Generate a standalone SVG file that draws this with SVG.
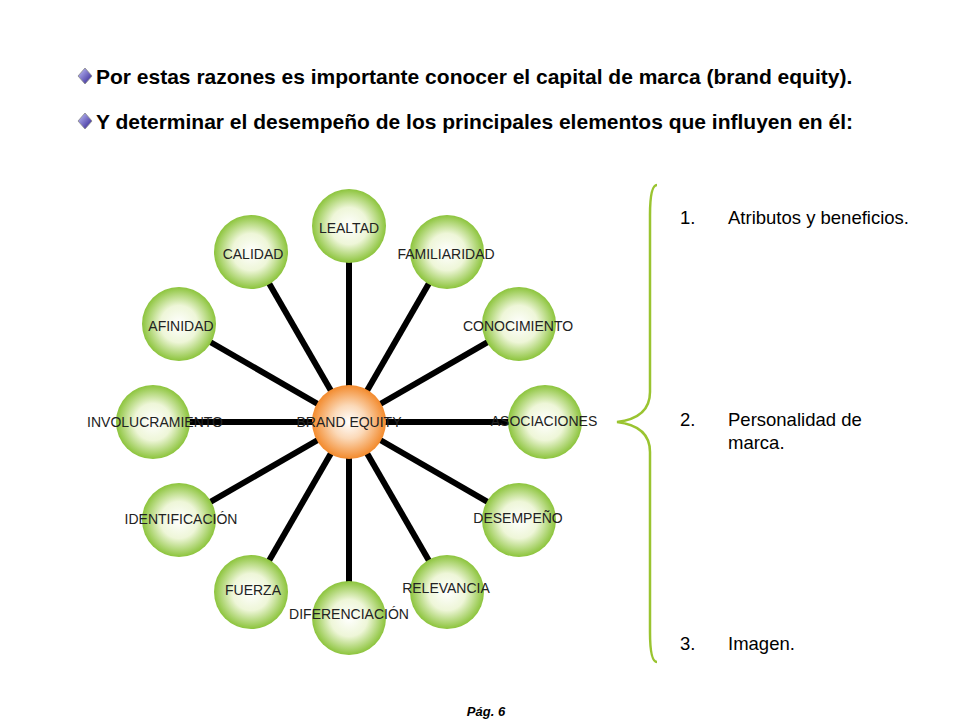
<svg xmlns="http://www.w3.org/2000/svg" width="960" height="720" viewBox="0 0 960 720">
<defs>
<radialGradient id="g" cx="50%" cy="50%" r="50%"><stop offset="0" stop-color="#ffffff"/><stop offset="0.5" stop-color="#eef6d8"/><stop offset="1" stop-color="#8cc43c"/></radialGradient>
<radialGradient id="o" cx="50%" cy="50%" r="50%"><stop offset="0" stop-color="#ffffff"/><stop offset="0.45" stop-color="#fbd9b8"/><stop offset="1" stop-color="#f38a2c"/></radialGradient>
<linearGradient id="d" x1="0" y1="0" x2="1" y2="1"><stop offset="0" stop-color="#c8c8ff"/><stop offset="1" stop-color="#2a1a8c"/></linearGradient>
</defs>
<style>
.h{font-family:"Liberation Sans",Arial,sans-serif;font-weight:bold;font-size:21px;fill:#000}
.n{font-family:"Liberation Sans",Arial,sans-serif;font-size:14px;fill:#222;text-anchor:middle}
.l{font-family:"Liberation Sans",Arial,sans-serif;font-size:18.5px;fill:#000}
.c line{stroke:#000;stroke-width:6}
.s{fill:url(#g)}
</style>
<rect width="960" height="720" fill="#fff"/>
<path d="M85 68 l7 8 -7 8 -7 -8z" fill="url(#d)" stroke="#888" stroke-width="0.8"/>
<path d="M85 113 l7 8 -7 8 -7 -8z" fill="url(#d)" stroke="#888" stroke-width="0.8"/>
<text class="h" x="96" y="84">Por estas razones es importante conocer el capital de marca (brand equity).</text>
<text class="h" x="96" y="129">Y determinar el desempeño de los principales elementos que influyen en él:</text>
<g class="c">
<line x1="349" y1="422" x2="349" y2="226"/>
<line x1="349" y1="422" x2="447" y2="252"/>
<line x1="349" y1="422" x2="519" y2="324"/>
<line x1="349" y1="422" x2="545" y2="422"/>
<line x1="349" y1="422" x2="519" y2="520"/>
<line x1="349" y1="422" x2="447" y2="592"/>
<line x1="349" y1="422" x2="349" y2="618"/>
<line x1="349" y1="422" x2="251" y2="592"/>
<line x1="349" y1="422" x2="179" y2="520"/>
<line x1="349" y1="422" x2="153" y2="422"/>
<line x1="349" y1="422" x2="179" y2="324"/>
<line x1="349" y1="422" x2="251" y2="252"/>
</g>
<g id="n1"><circle class="s" cx="349" cy="226" r="37"/><text class="n" x="349" y="233">LEALTAD</text></g>
<g id="n2"><circle class="s" cx="447" cy="252" r="37"/><text class="n" x="446" y="259">FAMILIARIDAD</text></g>
<g id="n3"><circle class="s" cx="519" cy="324" r="37"/><text class="n" x="518" y="331">CONOCIMIENTO</text></g>
<g id="n4"><circle class="s" cx="545" cy="422" r="37"/><text class="n" x="544" y="426">ASOCIACIONES</text></g>
<g id="n5"><circle class="s" cx="519" cy="520" r="37"/><text class="n" x="518" y="523">DESEMPEÑO</text></g>
<g id="n6"><circle class="s" cx="447" cy="592" r="37"/><text class="n" x="446" y="593">RELEVANCIA</text></g>
<g id="n7"><circle class="s" cx="349" cy="618" r="37"/><text class="n" x="349" y="619">DIFERENCIACIÓN</text></g>
<g id="n8"><circle class="s" cx="251" cy="592" r="37"/><text class="n" x="253" y="595">FUERZA</text></g>
<g id="n9"><circle class="s" cx="179" cy="520" r="37"/><text class="n" x="181" y="524">IDENTIFICACIÓN</text></g>
<g id="n10"><circle class="s" cx="153" cy="422" r="37"/><text class="n" x="155" y="427">INVOLUCRAMIENTO</text></g>
<g id="n11"><circle class="s" cx="179" cy="324" r="37"/><text class="n" x="181" y="331">AFINIDAD</text></g>
<g id="n12"><circle class="s" cx="251" cy="252" r="37"/><text class="n" x="253" y="259">CALIDAD</text></g>
<g id="center"><circle cx="349" cy="422" r="37" fill="url(#o)"/><line x1="312" y1="422" x2="300" y2="422" stroke="#000" stroke-width="6"/><text class="n" x="349" y="427">BRAND EQUITY</text></g>
<path d="M657 185 Q650 185 650 215 L650 392 Q650 418 617 422 Q650 426 650 452 L650 632 Q650 662 657 662" fill="none" stroke="#9ac430" stroke-width="2.5"/>
<text class="l" x="680" y="224">1.</text><text class="l" x="728" y="224">Atributos y beneficios.</text>
<text class="l" x="680" y="426">2.</text><text class="l" x="728" y="426">Personalidad de</text><text class="l" x="728" y="449">marca.</text>
<text class="l" x="680" y="650">3.</text><text class="l" x="728" y="650">Imagen.</text>
<text x="486" y="716" text-anchor="middle" font-family="Liberation Sans,Arial,sans-serif" font-size="13" font-weight="bold" font-style="italic">Pág. 6</text>
</svg>
